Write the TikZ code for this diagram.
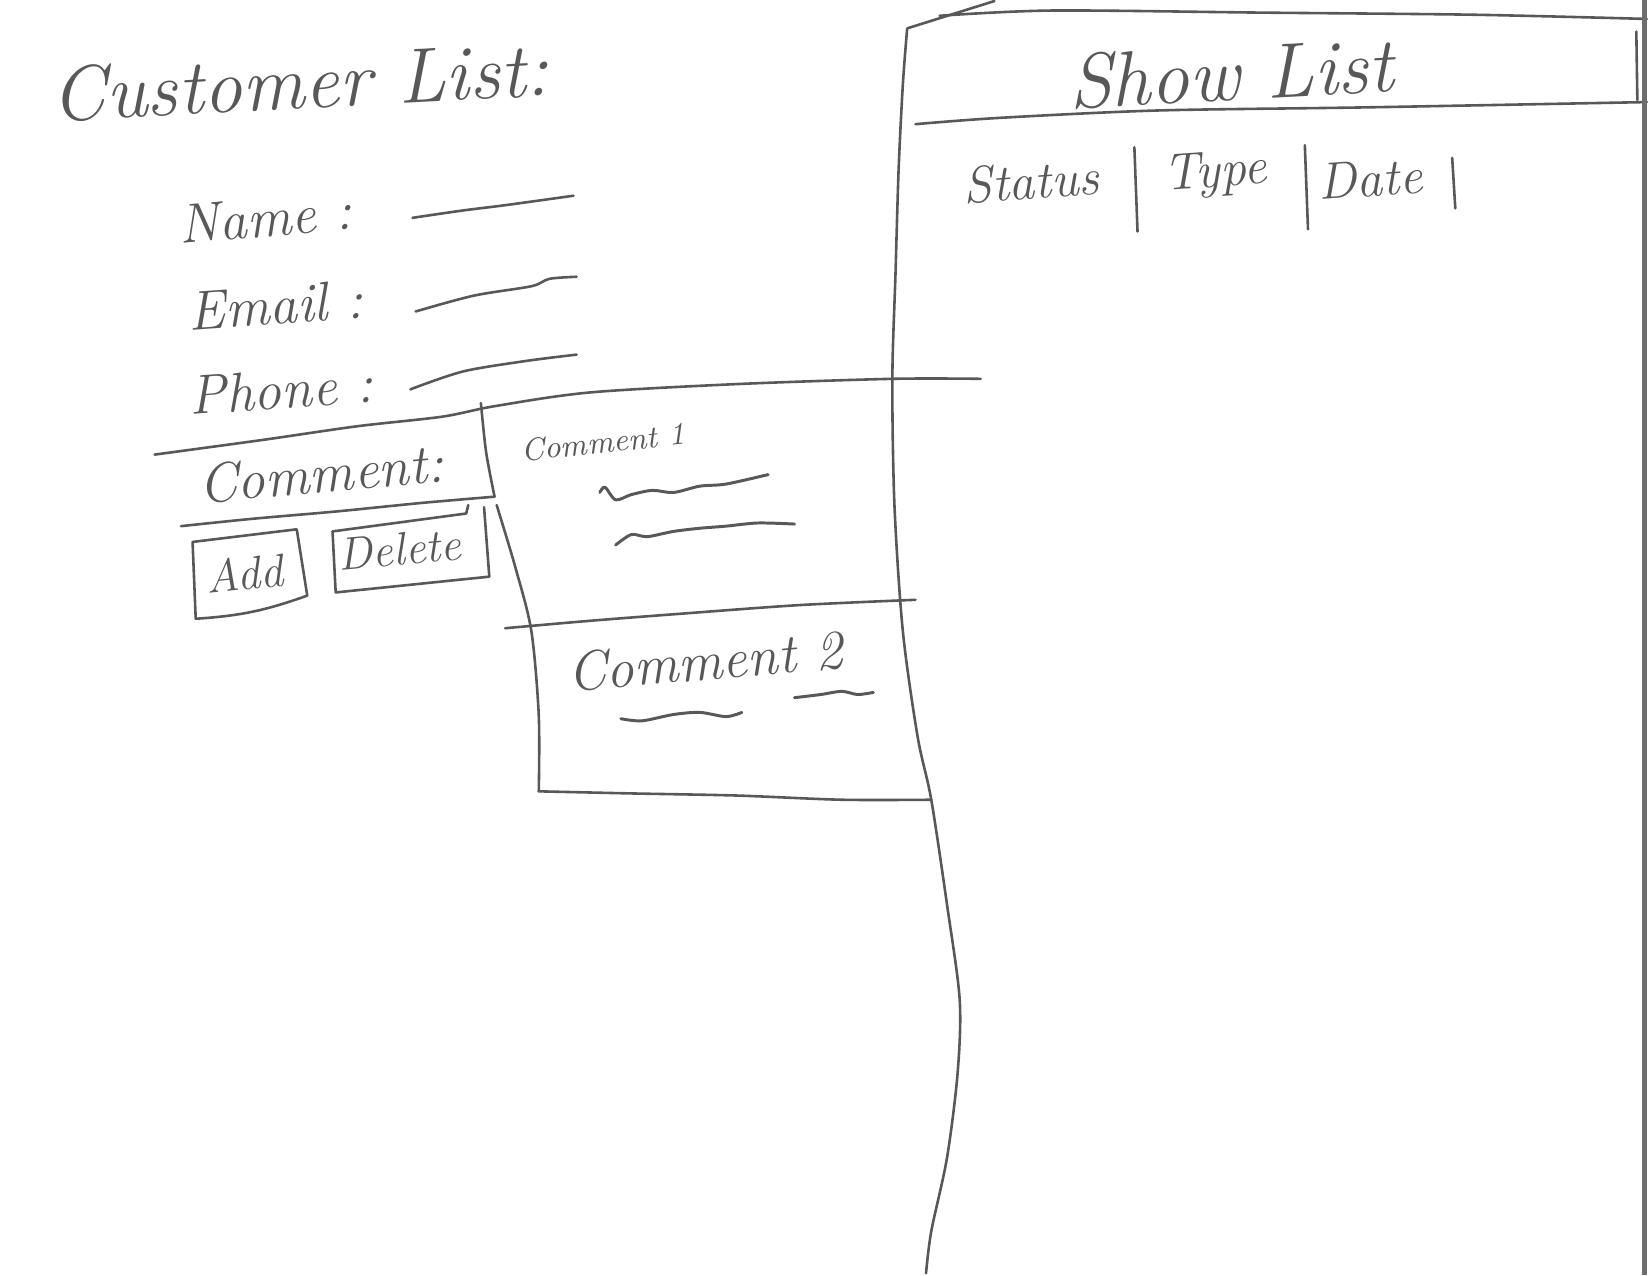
\documentclass[tikz,border=0pt]{standalone}
\usetikzlibrary{positioning}
\definecolor{pencil}{RGB}{88,88,88}
\definecolor{scanedge}{RGB}{110,110,110}
\tikzset{
  every picture/.style={line width=0.7pt},
  stroke/.style={draw=pencil, line cap=round, line join=round},
  scrib/.style={stroke, line width=0.8pt},
  hand/.style={text=pencil, inner sep=0pt, font=\itshape},
  title/.style={hand, font=\itshape\fontsize{21}{24}\selectfont},
  field/.style={hand, font=\itshape\fontsize{15}{18}\selectfont},
  colhead/.style={hand, font=\itshape\fontsize{14}{17}\selectfont},
  btnlabel/.style={hand, font=\itshape\fontsize{12.5}{15}\selectfont},
  tiny/.style={hand, font=\itshape\fontsize{8.5}{10}\selectfont},
}

\begin{document}
\begin{tikzpicture}[x=0.01cm, y=-0.01cm]
  \useasboundingbox (0,0) rectangle (1568,1212);
  % customer form
  \node[title, rotate=3] (cust) at (285,78) {Customer List:};
  \node[field, rotate=5] (name) at (252,207) {Name :};
  \node[field, rotate=4] (email) at (262,290) {Email :};
  \node[field, rotate=4] (phone) at (267,370) {Phone :};
  \draw[stroke] plot[smooth] coordinates {(392,207) (440,200) (480,195) (545,186)};
  \draw[stroke] plot[smooth] coordinates {(395,296) (450,281) (505,272) (522,265) (548,263)};
  \draw[stroke] plot[smooth] coordinates {(390,370) (440,353) (500,343) (548,337)};
  \draw[stroke] plot[smooth] coordinates {(147,432) (250,418) (340,405) (420,396) (470,386) (560,373) (700,365) (848,360) (932,360)};
  % comment entry and buttons
  \node[field, rotate=5] (comment) at (305,450) {Comment:};
  \draw[stroke] plot[smooth] coordinates {(457,383) (462,430) (470,472)};
  \draw[stroke] plot[smooth] coordinates {(172,500) (240,493) (320,486) (400,478) (470,472)};
  \draw[stroke] plot[smooth] coordinates {(472,480) (490,540) (505,600) (512,680) (512,752)};
  \draw[stroke] (183,515) -- (282,503) -- (292,566) to[bend left=8] (186,588) -- cycle;
  \node[btnlabel, rotate=6] (add) at (232,545) {Add};
  \draw[stroke] (316,505) -- (443,488) -- (445,480);
  \draw[stroke] (460,482) -- (465,548) -- (319,563) -- (316,505);
  \node[btnlabel, rotate=5] (delete) at (380,522) {Delete};
  % comment list
  \node[tiny, rotate=6] (c1) at (573,420) {Comment 1};
  \draw[scrib] plot[smooth] coordinates {(570,468) (575,463) (585,475) (600,470) (620,466) (640,468) (665,462) (690,460) (730,451)};
  \draw[scrib] plot[smooth] coordinates {(585,518) (600,508) (615,510) (640,505) (665,502) (690,500) (720,497) (755,498)};
  \draw[stroke] plot[smooth] coordinates {(480,597) (560,590) (650,583) (760,575) (870,570)};
  \node[field, rotate=5] (c2) at (670,628) {Comment 2};
  \draw[scrib] plot[smooth] coordinates {(590,683) (610,685) (640,679) (665,677) (690,681) (705,677)};
  \draw[scrib] plot[smooth] coordinates {(755,663) (780,660) (800,657) (815,660) (830,658)};
  \draw[stroke] plot[smooth] coordinates {(512,752) (600,754) (700,756) (800,760) (885,760)};
  % show list panel
  \draw[stroke] (862,27) -- (945,1);
  \draw[stroke] plot[smooth] coordinates {(893,15) (1000,10) (1200,12) (1400,14) (1565,18)};
  \draw[stroke] plot[smooth] coordinates {(862,28) (858,80) (854,160) (851,260) (848,360) (850,480) (858,600) (872,700) (885,760) (900,860) (912,950) (910,1020) (900,1100) (885,1170) (880,1210)};
  \draw[stroke] (1555,30) -- (1556,95);
  \draw[stroke] plot[smooth] coordinates {(870,118) (950,112) (1100,105) (1300,102) (1565,97)};
  \node[title, rotate=3] (show) at (1170,70) {Show List};
  \node[colhead, rotate=4] (status) at (980,172) {Status};
  \node[colhead, rotate=4] (type) at (1155,166) {Type};
  \node[colhead, rotate=4] (date) at (1302,170) {Date};
  \foreach \x/\t/\b in {1078/140/220, 1240/138/218, 1380/150/198}
    \draw[stroke] (\x,\t) -- (\x+3,\b);
  % edge of the scanned sheet
  \draw[scanedge, line width=1.3pt] (1563,0) -- (1563,1212);
\end{tikzpicture}
\end{document}
